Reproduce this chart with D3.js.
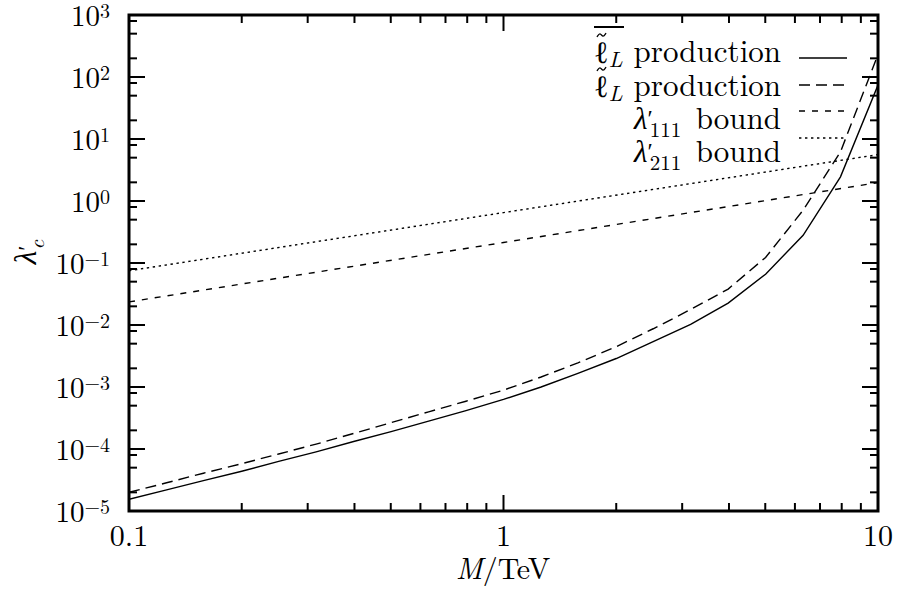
<!DOCTYPE html>
<html>
<head>
<meta charset="utf-8">
<script src="https://cdn.jsdelivr.net/npm/d3@7"></script>
<style>
  body { margin: 0; background: #fff; }
  svg { display: block; }
</style>
</head>
<body>
<svg width="897" height="594"></svg>
<script>

// Values

const massTeV = [0.1, 0.126, 0.158, 0.2, 0.251, 0.316, 0.398, 0.501, 0.631, 0.794,
                 1, 1.26, 1.58, 2, 2.51, 3.16, 3.98, 5.01, 6.31, 7.94, 10];

// anti-slepton (solid) and slepton (dashed) production limits
const sleptonBarLimit = [1.55e-5, 2.19e-5, 3.09e-5, 4.37e-5, 6.3e-5, 9.0e-5, 1.32e-4, 1.91e-4, 2.82e-4, 4.17e-4,
                         6.3e-4, 1.0e-3, 1.66e-3, 2.88e-3, 5.4e-3, 0.0102, 0.0226, 0.066, 0.28, 2.45, 74];
const sleptonLimit    = [2.0e-5, 2.85e-5, 4.07e-5, 5.8e-5, 8.3e-5, 1.2e-4, 1.78e-4, 2.66e-4, 3.98e-4, 5.9e-4,
                         8.9e-4, 1.45e-3, 2.45e-3, 4.47e-3, 8.7e-3, 0.0178, 0.038, 0.123, 0.71, 6.2, 230];

// indirect bounds, straight lines in log-log
const boundMass = [0.1, 1, 10];
const bound111  = [0.0236, 0.214, 1.98];
const bound211  = [0.075, 0.65, 5.6];

const xMajorTicks = [0.1, 1, 10];
const xMinorTicks = [0.2, 0.3, 0.4, 0.5, 0.6, 0.7, 0.8, 0.9, 2, 3, 4, 5, 6, 7, 8, 9];
const xTickLabels = ["0.1", "1", "10"];
const yExponents  = [-5, -4, -3, -2, -1, 0, 1, 2, 3];
const yMinorMult  = [2, 5, 8];

// use whatever serif faces are installed (the original is typeset in Computer Modern)

function hasFont(name) {
    const ctx = document.createElement("canvas").getContext("2d");
    const sample = "mmmmwwwwllii10.0productionbound";
    return ["monospace", "sans-serif"].some(base => {
        ctx.font = "40px " + base;
        const w0 = ctx.measureText(sample).width;
        ctx.font = "40px '" + name + "', " + base;
        return ctx.measureText(sample).width !== w0;
    });
}
const serifCandidates = ["Latin Modern Roman", "CMU Serif", "Liberation Serif", "DejaVu Serif",
                         "Noto Serif", "Tinos", "Times New Roman", "FreeSerif", "Nimbus Roman"];
const fontStack = serifCandidates.filter(hasFont).map(f => "'" + f + "'").concat(["serif"]).join(", ");

// Layout

const plotLeft = 129, plotRight = 878, plotTop = 15, plotBottom = 511;

const svg = d3.select('svg').attr("font-family", fontStack);

const x = d3.scaleLog().domain([0.1, 10]).range([plotLeft, plotRight]);
const y = d3.scaleLog().domain([1e-5, 1e3]).range([plotBottom, plotTop]);

const yMinorTicks = [];
yExponents.forEach(e => yMinorMult.forEach(m => {
    const v = m * Math.pow(10, e);
    if (v < 1e3) yMinorTicks.push(v);
}));

// curves

const series = [
    { xs: massTeV, ys: sleptonBarLimit, dash: null },
    { xs: massTeV, ys: sleptonLimit, dash: "11,6" },
    { xs: boundMass, ys: bound111, dash: "6,7" },
    { xs: boundMass, ys: bound211, dash: "2.4,3.6" }
];

const line = d3.line()
    .x(d => x(d[0]))
    .y(d => y(d[1]));

svg.append("clipPath").attr("id", "plotclip")
    .append("rect")
    .attr("x", plotLeft).attr("y", plotTop)
    .attr("width", plotRight - plotLeft).attr("height", plotBottom - plotTop);

svg.append("g").attr("clip-path", "url(#plotclip)")
    .selectAll("path")
    .data(series)
    .enter().append("path")
    .attr("d", s => line(s.xs.map((m, i) => [m, s.ys[i]])))
    .attr("fill", "none")
    .attr("stroke", "#000")
    .attr("stroke-width", 1.4)
    .attr("stroke-dasharray", s => s.dash);

// ticks on all four sides, pointing inwards

const ticks = svg.append("g").attr("stroke", "#000").attr("stroke-width", 2);

function xTicks(values, len) {
    values.forEach(v => {
        ticks.append("line").attr("x1", x(v)).attr("x2", x(v)).attr("y1", plotBottom).attr("y2", plotBottom - len);
        ticks.append("line").attr("x1", x(v)).attr("x2", x(v)).attr("y1", plotTop).attr("y2", plotTop + len);
    });
}
function yTicks(values, len) {
    values.forEach(v => {
        ticks.append("line").attr("y1", y(v)).attr("y2", y(v)).attr("x1", plotLeft).attr("x2", plotLeft + len);
        ticks.append("line").attr("y1", y(v)).attr("y2", y(v)).attr("x1", plotRight).attr("x2", plotRight - len);
    });
}
xTicks(xMajorTicks, 16);
xTicks(xMinorTicks, 8);
yTicks(yExponents.map(e => Math.pow(10, e)), 16);
yTicks(yMinorTicks, 8);

svg.append("rect")
    .attr("x", plotLeft).attr("y", plotTop)
    .attr("width", plotRight - plotLeft).attr("height", plotBottom - plotTop)
    .attr("fill", "none").attr("stroke", "#000").attr("stroke-width", 3);

// tick labels

svg.selectAll(".xlab")
    .data(xMajorTicks)
    .enter().append("text")
    .attr("x", d => x(d))
    .attr("y", 546)
    .attr("text-anchor", "middle")
    .attr("font-size", 30)
    .text((d, i) => xTickLabels[i]);

const ylab = svg.selectAll(".ylab")
    .data(yExponents)
    .enter().append("text")
    .attr("x", 110)
    .attr("y", e => y(Math.pow(10, e)) + 11)
    .attr("text-anchor", "end")
    .attr("font-size", 29);
ylab.append("tspan").text("10");
ylab.append("tspan")
    .attr("dy", -8)
    .attr("font-size", 20)
    .text(e => e < 0 ? "\u2212" + (-e) : String(e));

// axis titles

const xt = svg.append("text")
    .attr("x", 503).attr("y", 579)
    .attr("text-anchor", "middle")
    .attr("font-size", 30);
xt.append("tspan").attr("font-style", "italic").text("M");
xt.append("tspan").text("/TeV");

const yt = svg.append("text")
    .attr("transform", "translate(36,252) rotate(-90)")
    .attr("text-anchor", "middle")
    .attr("font-size", 31);
yt.append("tspan").attr("font-style", "italic").text("\u03bb");
yt.append("tspan").attr("dy", -2).attr("font-size", 24).text("\u2032");
yt.append("tspan").attr("dx", -4).attr("dy", 10).attr("font-size", 21).attr("font-style", "italic").text("c");

// legend

const legendLineY = [58, 85, 111, 138];
const legendTextY = [62, 96, 129, 162];
const legendDash = series.map(s => s.dash);
const legendWord = ["production", "production", "bound", "bound"];

const legend = svg.append("g");

legend.selectAll("line")
    .data(legendLineY)
    .enter().append("line")
    .attr("x1", 799).attr("x2", 847)
    .attr("y1", d => d).attr("y2", d => d)
    .attr("stroke", "#000").attr("stroke-width", 1.4)
    .attr("stroke-dasharray", (d, i) => legendDash[i]);

legend.selectAll("text.word")
    .data(legendWord)
    .enter().append("text")
    .attr("class", "word")
    .attr("x", 781)
    .attr("y", (d, i) => legendTextY[i])
    .attr("text-anchor", "end")
    .attr("font-size", 31)
    .text(d => d);

// slepton symbols: ell with a tilde accent, the first one also overlined
const tilde = d3.line().curve(d3.curveBasis);
[0, 1].forEach(i => {
    const t = legend.append("text")
        .attr("x", 594).attr("y", legendTextY[i] + 1)
        .attr("font-size", 31);
    t.append("tspan").text("\u2113");
    t.append("tspan").attr("dy", 4).attr("font-size", 22).attr("font-style", "italic").text("L");
    const cy = legendTextY[i] - 27;
    legend.append("path")
        .attr("d", tilde([[597, cy + 2], [600, cy - 3], [603, cy + 3], [606, cy - 2]]))
        .attr("fill", "none").attr("stroke", "#000").attr("stroke-width", 1.3);
});
legend.append("line")
    .attr("x1", 594).attr("x2", 624)
    .attr("y1", 27).attr("y2", 27)
    .attr("stroke", "#000").attr("stroke-width", 2);

// lambda' symbols
["111", "211"].forEach((sub, k) => {
    const t = legend.append("text")
        .attr("x", 634).attr("y", legendTextY[k + 2])
        .attr("font-size", 31);
    t.append("tspan").attr("font-style", "italic").text("\u03bb");
    t.append("tspan").attr("dy", -3).attr("font-size", 24).text("\u2032");
    t.append("tspan").attr("dx", -3).attr("dy", 11).attr("font-size", 21).text(sub);
});

</script>
</body>
</html>
